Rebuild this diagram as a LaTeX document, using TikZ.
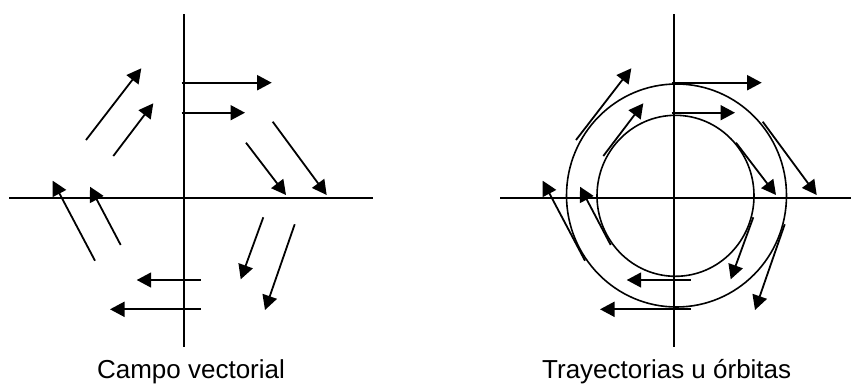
\documentclass[tikz,border=0pt]{standalone}
\usepackage{fontspec}
\setmainfont{Liberation Sans}
\usetikzlibrary{arrows.meta}
\newcommand\myvecfield{%
  \draw[vec] (-2.6,-115) -- (87.4,-115);
  \draw[vec] (-2.6,-85) -- (60.7,-85);
  \draw[vec] (88.4,-76) -- (142.4,-2.7);
  \draw[vec] (61.7,-55) -- (101.7,-2.7);
  \draw[vec] (79,19.6) -- (56.4,81.6);
  \draw[vec] (110.4,26.6) -- (80.7,112.3);
  \draw[vec] (16.4,82.3) -- (-47.6,82.3);
  \draw[vec] (16.4,111.6) -- (-74.3,111.6);
  \draw[vec] (-63.6,47.3) -- (-94.3,-11);
  \draw[vec] (-89.3,63) -- (-131.6,-17);
  \draw[vec] (-71,-41.7) -- (-31,-94.4);
  \draw[vec] (-98.3,-57.7) -- (-43,-129.4);
}
\begin{document}
\begin{tikzpicture}[x=1pt,y=-1pt,
  axis/.style={line width=1.9pt},
  vec/.style={line width=1.8pt,-{Triangle[length=14.5pt,width=15pt]}},
  orbit/.style={line width=1.6pt},
  caption/.style={font=\fontsize{26}{30}\selectfont, anchor=base, inner sep=0pt}]
\useasboundingbox (0,0) rectangle (851,384);
% left panel
\coordinate (O1) at (184.3,197.7);
\draw[axis] (184.3,14) -- (184.3,347);
\draw[axis] (9.3,197.7) -- (372.7,197.7);
\begin{scope}[shift={(O1)}]
  \myvecfield
\end{scope}
\node[caption] (c1) at (191,378) {Campo vectorial};
% right panel
\coordinate (O2) at (674.3,197.7);
\draw[axis] (674.3,14) -- (674.3,347);
\draw[axis] (500,197.7) -- (851,197.7);
\begin{scope}[shift={(O2)}]
  \draw[orbit] (2.2,-2.2) ellipse [x radius=110, y radius=111.5];
  \draw[orbit] (1.2,-1.9) ellipse [x radius=78.5, y radius=80.5];
  \myvecfield
\end{scope}
\node[caption] (c2) at (666.7,378) {Trayectorias u órbitas};
\end{tikzpicture}
\end{document}
